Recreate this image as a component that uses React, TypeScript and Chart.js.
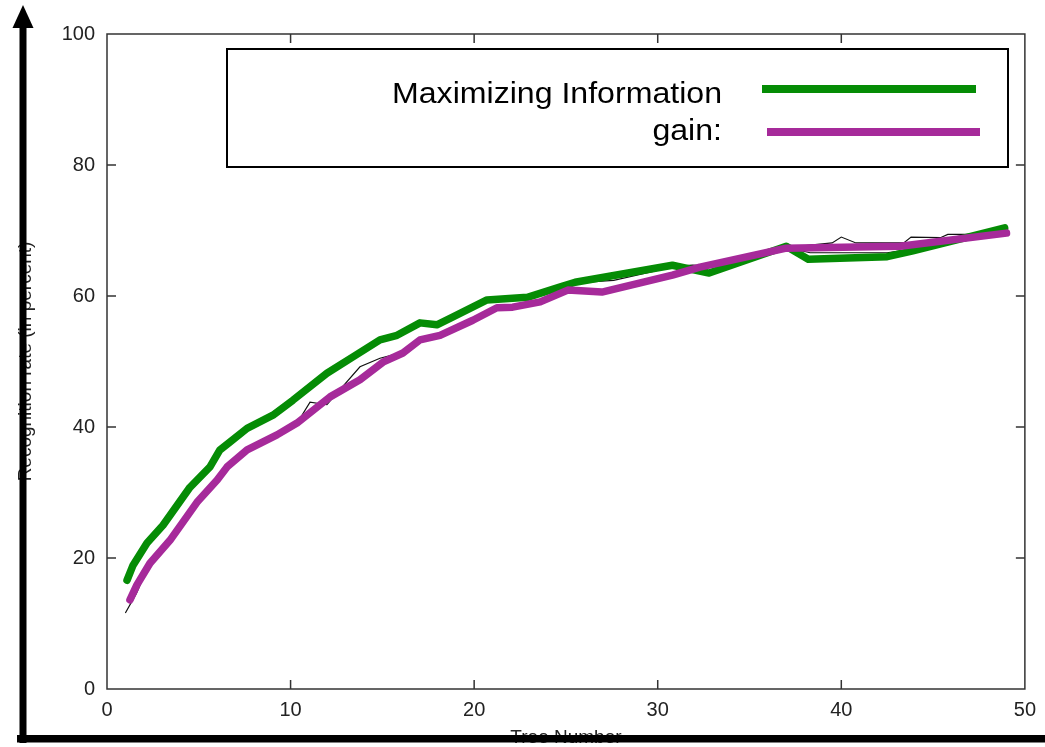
import React, { useEffect, useRef } from "react";
import { Chart, registerables } from "chart.js";

Chart.register(...registerables);

// ---- Data ----
const xTicks = [0, 10, 20, 30, 40, 50];
const yTicks = [0, 20, 40, 60, 80, 100];

const legendLine1 = "Maximizing Information";
const legendLine2 = "gain:";
const xTitle = "Tree Number";
const yTitle = "Recognition rate (in percent)";

const greenX = [1.09, 1.42, 2.18, 3.05, 4.52, 5.61, 6.15, 6.7, 7.63, 9.04, 10.13, 11.98, 13.4, 14.87, 15.8, 17.05, 17.97, 18.85, 20.7, 22.9, 24.7, 25.5, 30.8, 32.8, 37.0, 38.2, 42.5, 43.9, 48.9];
const greenY = [16.6, 18.9, 22.3, 25.0, 30.8, 33.9, 36.5, 37.7, 39.8, 41.8, 44.1, 48.2, 50.7, 53.3, 54.0, 55.9, 55.6, 56.8, 59.4, 59.8, 61.4, 62.1, 64.7, 63.5, 67.6, 65.6, 66.0, 66.9, 70.4];

const purpleX = [1.25, 1.63, 2.34, 3.43, 4.9, 6.0, 6.54, 7.63, 9.26, 10.35, 12.15, 13.78, 15.03, 16.12, 17.05, 18.14, 19.93, 21.24, 22.1, 23.6, 25.1, 26.96, 30.8, 32.3, 37.0, 43.2, 49.0];
const purpleY = [13.6, 15.9, 19.2, 22.7, 28.5, 31.9, 33.9, 36.5, 38.8, 40.6, 44.6, 47.2, 49.9, 51.3, 53.3, 54.0, 56.3, 58.2, 58.3, 59.1, 60.9, 60.6, 63.2, 64.4, 67.3, 67.6, 69.6];

const black1X = [1.0, 2.1, 3.0, 4.5, 5.6, 6.2, 7.6, 9.0, 10.1, 12.0, 13.4, 14.9, 15.8, 17.0, 18.0, 18.9, 20.7, 22.9, 24.7, 25.5, 27.6, 29.7, 30.8, 31.9, 32.8, 37.0, 38.3, 42.5, 43.9, 48.9];
const black1Y = [16.4, 22.4, 25.2, 31.0, 34.2, 36.6, 40.0, 42.2, 44.4, 48.5, 51.0, 53.5, 54.2, 56.1, 55.9, 57.2, 59.6, 59.9, 61.5, 62.0, 62.4, 63.7, 64.5, 64.7, 64.6, 67.4, 66.6, 66.6, 67.2, 70.2];

const black2X = [1.0, 1.6, 2.3, 3.4, 4.9, 6.0, 6.5, 7.6, 9.3, 10.4, 11.06, 11.98, 13.78, 14.87, 16.1, 17.05, 18.1, 19.9, 21.2, 22.1, 23.6, 25.1, 27.0, 30.8, 32.3, 37.0, 39.5, 40.0, 40.8, 43.4, 43.8, 45.4, 45.8, 46.8, 49.0];
const black2Y = [11.6, 14.6, 19.0, 22.6, 28.4, 31.8, 34.0, 36.6, 38.9, 40.8, 43.8, 43.4, 49.2, 50.5, 51.4, 53.4, 54.1, 56.4, 58.3, 58.0, 59.2, 61.0, 60.5, 63.3, 64.5, 67.4, 68.1, 69.0, 68.1, 68.1, 69.0, 68.9, 69.4, 69.4, 69.8];

const GREEN = "#058c05";
const PURPLE = "#a62a9a";
const FONT = "'Liberation Sans', Arial, Helvetica, sans-serif";

const toPoints = (xs: number[], ys: number[]) => xs.map((x, i) => ({ x, y: ys[i] }));

function stretchedText(ctx: CanvasRenderingContext2D, text: string, right: number, baseline: number, width: number) {
  const w = ctx.measureText(text).width;
  const k = width / w;
  ctx.save();
  ctx.translate(right, baseline);
  ctx.scale(k, 1);
  ctx.textAlign = "right";
  ctx.fillText(text, 0, 0);
  ctx.restore();
}

const decorPlugin = {
  id: "decor",
  beforeDatasetsDraw(chart: any) {
    const { ctx, chartArea: a, scales } = chart;
    ctx.save();
    ctx.strokeStyle = "#333";
    ctx.lineWidth = 1.5;
    ctx.strokeRect(a.left, a.top, a.right - a.left, a.bottom - a.top);
    ctx.beginPath();
    const tl = 9;
    xTicks.slice(1, -1).forEach((v) => {
      const px = scales.x.getPixelForValue(v);
      ctx.moveTo(px, a.bottom);
      ctx.lineTo(px, a.bottom - tl);
      ctx.moveTo(px, a.top);
      ctx.lineTo(px, a.top + tl);
    });
    yTicks.slice(1, -1).forEach((v) => {
      const py = scales.y.getPixelForValue(v);
      ctx.moveTo(a.left, py);
      ctx.lineTo(a.left + tl, py);
      ctx.moveTo(a.right, py);
      ctx.lineTo(a.right - tl, py);
    });
    ctx.stroke();
    ctx.restore();
  },
  afterDraw(chart: any) {
    const { ctx } = chart;
    ctx.save();
    // legend box
    ctx.fillStyle = "#fff";
    ctx.fillRect(227, 49, 781, 118);
    ctx.strokeStyle = "#000";
    ctx.lineWidth = 2;
    ctx.strokeRect(227, 49, 781, 118);
    ctx.fillStyle = "#000";
    ctx.font = `30px ${FONT}`;
    ctx.textBaseline = "alphabetic";
    const fullW = ctx.measureText(legendLine1).width;
    const k = 330 / fullW;
    stretchedText(ctx, legendLine1, 722, 103, 330);
    stretchedText(ctx, legendLine2, 722, 140, ctx.measureText(legendLine2).width * k);
    ctx.lineCap = "butt";
    ctx.lineWidth = 8;
    ctx.strokeStyle = GREEN;
    ctx.beginPath();
    ctx.moveTo(762, 89);
    ctx.lineTo(976, 89);
    ctx.stroke();
    ctx.strokeStyle = PURPLE;
    ctx.beginPath();
    ctx.moveTo(767, 132);
    ctx.lineTo(980, 132);
    ctx.stroke();
    // arrows
    ctx.fillStyle = "#000";
    ctx.fillRect(19.5, 24, 7, 719);
    ctx.beginPath();
    ctx.moveTo(23, 5);
    ctx.lineTo(12.5, 28);
    ctx.lineTo(33.5, 28);
    ctx.closePath();
    ctx.fill();
    ctx.fillRect(17, 735, 1028, 7.5);
    ctx.restore();
  },
};

export default function App() {
  const canvasRef = useRef<HTMLCanvasElement | null>(null);

  useEffect(() => {
    if (!canvasRef.current) return;
    const chart = new Chart(canvasRef.current, {
      type: "line",
      data: {
        datasets: [
          {
            label: "gain",
            data: toPoints(purpleX, purpleY),
            borderColor: PURPLE,
            borderWidth: 7.5,
            pointRadius: 0,
            order: 0,
            borderJoinStyle: "round",
            borderCapStyle: "round",
          },
          {
            label: "Maximizing Information",
            data: toPoints(greenX, greenY),
            borderColor: GREEN,
            borderWidth: 7.5,
            pointRadius: 0,
            order: 1,
            borderJoinStyle: "round",
            borderCapStyle: "round",
          },
          {
            label: "original A",
            data: toPoints(black1X, black1Y),
            borderColor: "#111",
            borderWidth: 1.2,
            pointRadius: 0,
            order: 2,
          },
          {
            label: "original B",
            data: toPoints(black2X, black2Y),
            borderColor: "#111",
            borderWidth: 1.2,
            pointRadius: 0,
            order: 3,
          },
        ],
      },
      options: {
        animation: false,
        responsive: true,
        maintainAspectRatio: false,
        layout: { padding: { left: 0, top: 34, right: 20, bottom: 0 } },
        plugins: { legend: { display: false }, tooltip: { enabled: false } },
        scales: {
          x: {
            type: "linear",
            min: 0,
            max: 50,
            afterFit: (s: any) => {
              s.height = 58;
            },
            afterBuildTicks: (s: any) => {
              s.ticks = xTicks.map((v) => ({ value: v }));
            },
            grid: { display: false, drawTicks: false },
            border: { display: false },
            ticks: {
              color: "#222",
              padding: 9,
              font: { family: FONT, size: 20 },
              maxRotation: 0,
            },
            title: {
              display: true,
              text: xTitle,
              color: "#222",
              font: { family: FONT, size: 19, lineHeight: 1 },
              padding: { top: 0, bottom: 0 },
            },
          },
          y: {
            type: "linear",
            min: 0,
            max: 100,
            afterFit: (s: any) => {
              s.width = 107;
            },
            afterBuildTicks: (s: any) => {
              s.ticks = yTicks.map((v) => ({ value: v }));
            },
            grid: { display: false, drawTicks: false },
            border: { display: false },
            ticks: {
              color: "#222",
              padding: 12,
              font: { family: FONT, size: 20 },
            },
            title: {
              display: true,
              text: yTitle,
              color: "#222",
              font: { family: FONT, size: 19, lineHeight: 1.2 },
              padding: { top: 14, bottom: 0 },
            },
          },
        },
      },
      plugins: [decorPlugin],
    } as any);
    return () => chart.destroy();
  }, []);

  return (
    <div
      style={{
        position: "absolute",
        left: 0,
        top: 0,
        width: 1045,
        height: 747,
        background: "#fff",
      }}
    >
      <canvas ref={canvasRef} />
    </div>
  );
}
